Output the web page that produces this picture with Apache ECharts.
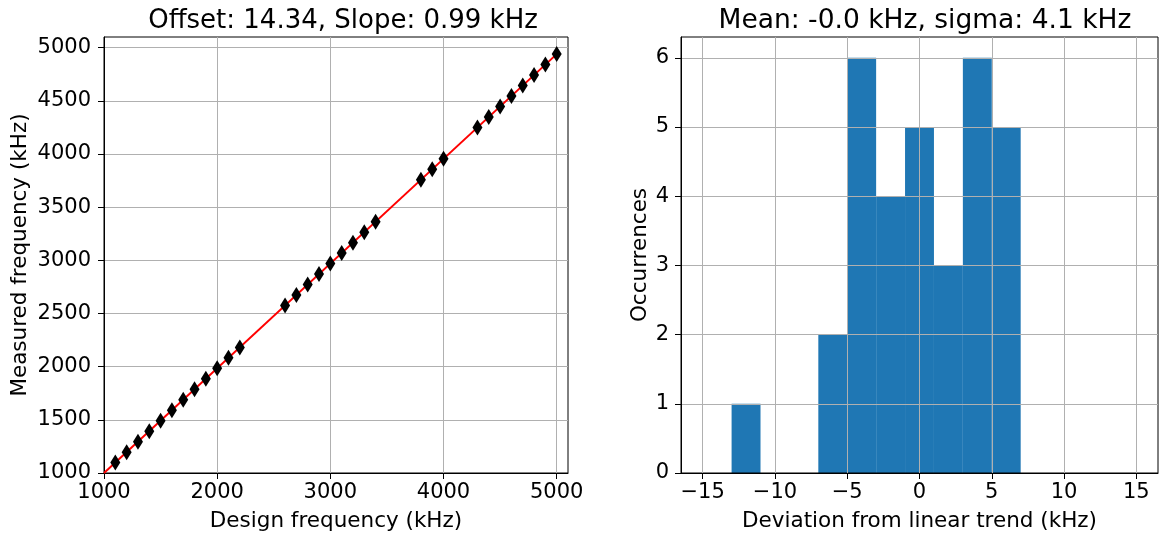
<!DOCTYPE html>
<html>
<head>
<meta charset="utf-8">
<script src="https://cdn.jsdelivr.net/npm/echarts@6/dist/echarts.min.js"></script>
<style>
  html, body { margin: 0; padding: 0; background: #fff; }
  #main { width: 1160px; height: 539px; }
</style>
</head>
<body>
<div id="main"></div>
<script>
// left panel: design vs measured frequency (kHz)
var designFreq = [1100, 1200, 1300, 1400, 1500, 1600, 1700, 1800, 1900, 2000, 2100, 2200,
                  2600, 2700, 2800, 2900, 3000, 3100, 3200, 3300, 3400,
                  3800, 3900, 4000,
                  4300, 4400, 4500, 4600, 4700, 4800, 4900, 5000];
var measuredFreq = [1098, 1196, 1295, 1393, 1492, 1590, 1689, 1787, 1886, 1984, 2083, 2181,
                    2575, 2674, 2772, 2871, 2969, 3068, 3166, 3265, 3363,
                    3757, 3856, 3954,
                    4250, 4348, 4447, 4545, 4644, 4742, 4841, 4939];
// fitted trend, drawn between its two ends
var fitX = [1000, 5000];
var fitY = [999.3, 4939];

// right panel: histogram of deviations
var binLeft  = [-13, -11, -9, -7, -5, -3, -1, 1, 3, 5];
var binRight = [-11, -9, -7, -5, -3, -1, 1, 3, 5, 7];
var counts   = [1, 0, 0, 2, 6, 4, 5, 3, 6, 5];

// ticks
var freqTicksX = [1000, 2000, 3000, 4000, 5000];
var freqTicksY = [1000, 1500, 2000, 2500, 3000, 3500, 4000, 4500, 5000];
var devTicks   = [-15, -10, -5, 0, 5, 10, 15];
var countTicks = [0, 1, 2, 3, 4, 5, 6];

var FONT = 'DejaVu Sans';

// plain numbers, with a real minus sign like matplotlib
function fmt(v) {
  return v < 0 ? '\u2212' + String(-v) : String(v);
}

function valueAxis(opt) {
  var base = {
    type: 'value',
    scale: true,
    axisLine: { show: true, onZero: false, lineStyle: { color: '#000', width: 1 } },
    axisTick: { show: true, length: 6, lineStyle: { color: '#000', width: 1 }, customValues: opt.ticks },
    axisLabel: { color: '#000', fontFamily: FONT, fontSize: 21, margin: opt.margin,
                 customValues: opt.ticks, formatter: fmt },
    splitLine: { show: true, lineStyle: { color: '#b0b0b0', width: 1 } },
    name: opt.name,
    nameLocation: 'middle',
    nameGap: opt.nameGap,
    nameTextStyle: { color: '#000', fontFamily: FONT, fontSize: 21.5 },
    gridIndex: opt.grid,
    min: opt.min,
    max: opt.max
  };
  if (opt.interval) base.interval = opt.interval;
  return base;
}

var chart = echarts.init(document.getElementById('main'));
chart.setOption({
  animation: false,
  backgroundColor: '#fff',
  title: [{
    text: 'Offset: 14.34, Slope: 0.99 kHz',
    left: 338, top: 3, textAlign: 'center',
    textStyle: { color: '#000', fontFamily: FONT, fontSize: 26, fontWeight: 'normal' }
  }, {
    text: 'Mean: -0.0 kHz, sigma: 4.1 kHz',
    left: 920, top: 3, textAlign: 'center',
    textStyle: { color: '#000', fontFamily: FONT, fontSize: 26.5, fontWeight: 'normal' }
  }],
  grid: [
    { left: 104, top: 37, width: 464, height: 436, show: true, borderColor: '#000', borderWidth: 1 },
    { left: 681, top: 37, width: 477, height: 436, show: true, borderColor: '#000', borderWidth: 1 }
  ],
  xAxis: [
    valueAxis({ grid: 0, min: 1000, max: 5100, interval: 1000, ticks: freqTicksX, margin: 9,
                name: 'Design frequency (kHz)', nameGap: 37 }),
    valueAxis({ grid: 1, min: -16.5, max: 16.5, ticks: devTicks, margin: 9,
                name: 'Deviation from linear trend (kHz)', nameGap: 37 })
  ],
  yAxis: [
    valueAxis({ grid: 0, min: 1000, max: 5100, interval: 500, ticks: freqTicksY, margin: 13,
                name: 'Measured frequency (kHz)', nameGap: 73 }),
    valueAxis({ grid: 1, min: 0, max: 6.3, interval: 1, ticks: countTicks, margin: 12,
                name: 'Occurrences', nameGap: 30 })
  ],
  series: [{
    type: 'line',
    xAxisIndex: 0, yAxisIndex: 0,
    data: fitX.map(function (x, i) { return [x, fitY[i]]; }),
    showSymbol: false,
    symbol: 'none',
    lineStyle: { color: '#ff0000', width: 2 },
    z: 2
  }, {
    type: 'scatter',
    xAxisIndex: 0, yAxisIndex: 0,
    data: designFreq.map(function (x, i) { return [x, measuredFreq[i]]; }),
    symbol: 'diamond',
    symbolSize: [10, 16],
    itemStyle: { color: '#000', opacity: 1 },
    z: 3
  }, {
    type: 'custom',
    xAxisIndex: 1, yAxisIndex: 1,
    data: binLeft.map(function (l, i) { return [l, binRight[i], counts[i]]; }),
    encode: { x: [0, 1], y: 2 },
    z: -1,
    renderItem: function (params, api) {
      var top = api.coord([api.value(0), api.value(2)]);
      var bottom = api.coord([api.value(1), 0]);
      return {
        type: 'rect',
        shape: { x: top[0], y: top[1], width: bottom[0] - top[0], height: bottom[1] - top[1] },
        style: { fill: '#1f77b4' }
      };
    }
  }]
});
</script>
</body>
</html>
